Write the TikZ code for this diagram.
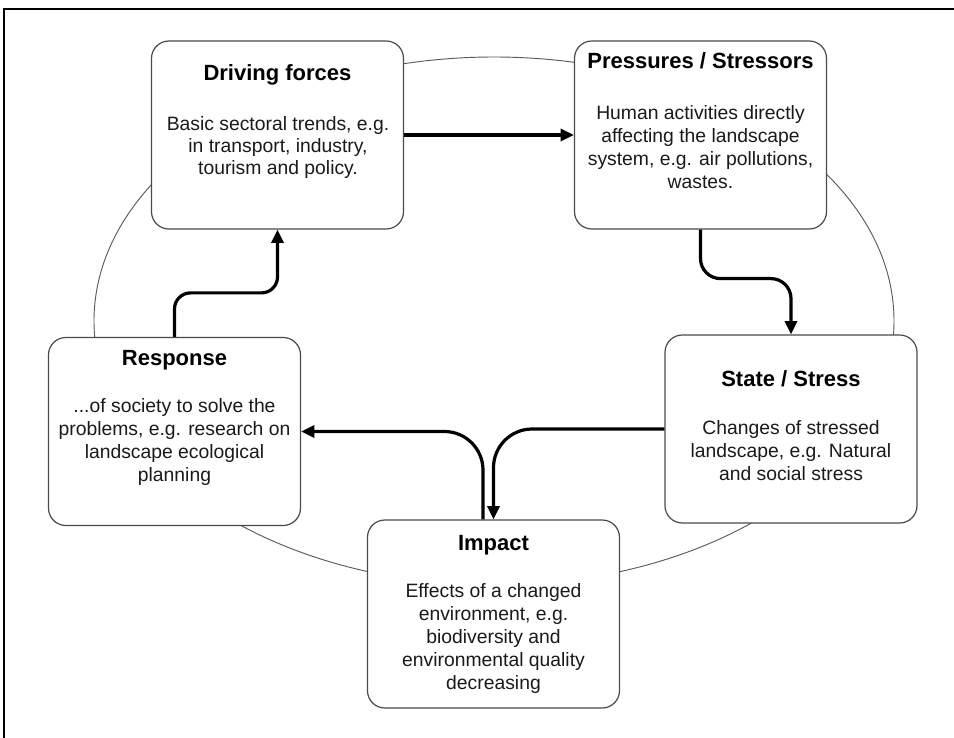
\documentclass[tikz,border=0pt]{standalone}
\usepackage{fontspec}
\setmainfont{Liberation Sans}
\usetikzlibrary{calc,arrows.meta}
\definecolor{boxgray}{HTML}{4A4A4A}
\definecolor{orbitgray}{HTML}{5A5A5A}
\definecolor{txtgray}{HTML}{1A1A1A}
\begin{document}
\begin{tikzpicture}[x=0.75pt,y=-0.75pt,
  box/.style={draw=boxgray, line width=0.9pt, fill=white, rounded corners=13pt,
    minimum width=189pt, minimum height=141pt, inner sep=0pt},
  ttl/.style={font=\fontsize{16.5}{18}\selectfont\bfseries, text=black, anchor=base, inner sep=0pt},
  body/.style={font=\fontsize{14.5}{17.25}\selectfont, align=center, text=txtgray, inner sep=0pt},
  bodytight/.style={body, font=\fontsize{14.5}{16.5}\selectfont},
  flow/.style={line width=2.4pt, draw=black, -{Triangle[length=10pt,width=9pt]}},
  orbit/.style={draw=orbitgray, line width=0.7pt},
  frame/.style={draw=black, line width=1.5pt}]
\useasboundingbox (0,0) rectangle (954,738);
\fill[white] (0,0) rectangle (954,738);
\draw[frame] (4,770) -- (4,9) -- (980,9);
% cycle ellipse
\draw[orbit] (494,321) ellipse [x radius=300pt, y radius=198pt];
% boxes
\node[box] (df) at (277.5,135) {};
\node[box] (ps) at (700.5,135) {};
\node[box] (rs) at (174.5,431.5) {};
\node[box] (ss) at (791,429) {};
\node[box] (im) at (493.5,614) {};
% titles
\node[ttl] (dft) at (277.5,81) {Driving forces};
\node[ttl] (pst) at (700.5,69) {Pressures / Stressors};
\node[ttl] (rst) at (174.5,365) {Response};
\node[ttl] (sst) at (791,386) {State / Stress};
\node[ttl] (imt) at (493.5,550) {Impact};
% bodies
\node[bodytight] (dfb) at (278,148) {Basic sectoral trends, e.g.\\in transport, industry,\\tourism and policy.};
\node[body] (psb) at (700.5,147) {Human activities directly\\affecting the landscape\\system, e.g. air pollutions,\\wastes.};
\node[body] (rsb) at (174.5,442) {...of society to solve the\\problems, e.g. research on\\landscape ecological\\planning};
\node[body] (ssb) at (791,451) {Changes of stressed\\landscape, e.g. Natural\\and social stress};
\node[body] (imb) at (493.5,638) {Effects of a changed\\environment, e.g.\\biodiversity and\\environmental quality\\decreasing};
% connectors
\draw[flow] (df.east) -- (ps.west);
\draw[flow, rounded corners=15pt] (ps.south) -- ($(ps.south)+(0,49)$) -| (ss.north);
\draw[flow, rounded corners=29pt] (ss.west) -| (im.north);
\draw[flow, rounded corners=29pt] ($(im.north)+(-10.5,0)$) |- (rs.east);
\draw[flow, rounded corners=12pt] (rs.north) -- ($(rs.north)+(0,-44)$) -| (df.south);
\end{tikzpicture}
\end{document}
